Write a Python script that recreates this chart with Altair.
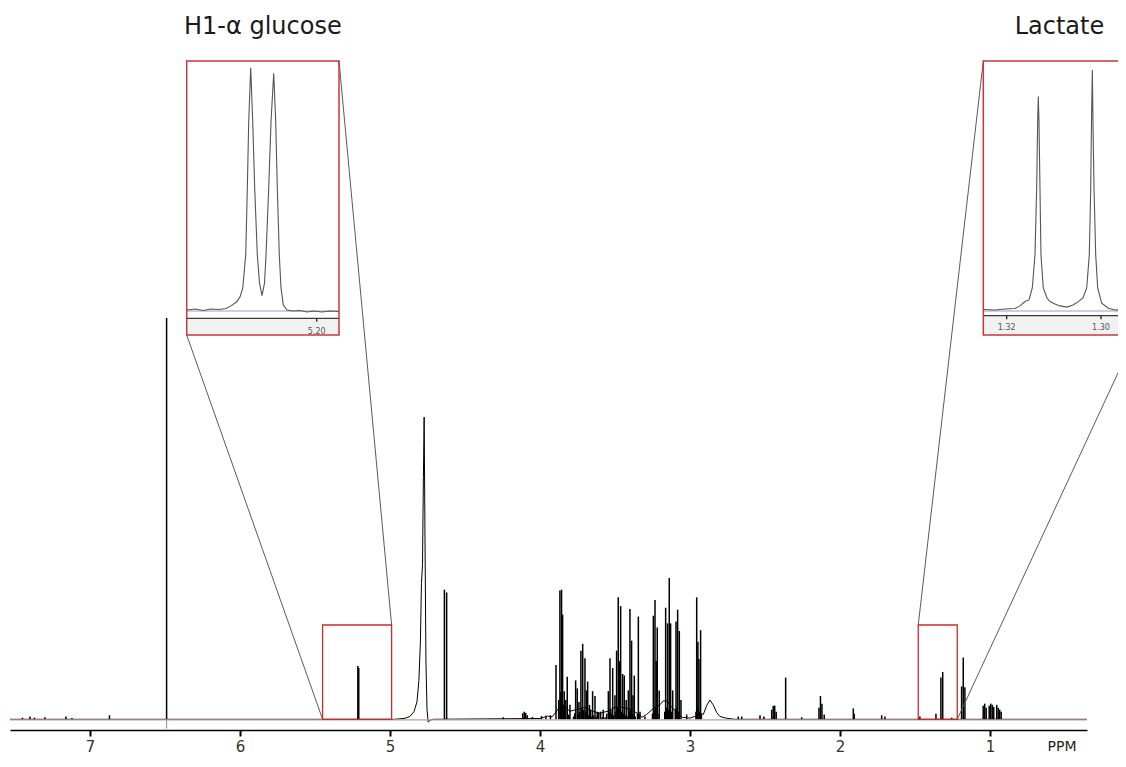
import altair as alt
import pandas as pd

# ---------------- data ----------------
# Sharp resonances of the main 1H NMR spectrum: chemical shift (ppm) and
# relative intensity (tallest signal, 6.49 ppm = 100)
peak_ppm = [7.45, 7.40, 7.37, 7.30, 7.16, 7.12, 6.87, 6.489,
            5.214, 5.208, 4.637, 4.622,
            4.245, 4.115, 4.105, 4.095, 4.085, 4.05, 3.99, 3.96, 3.93,
            3.893, 3.875, 3.867, 3.861, 3.856, 3.853, 3.849, 3.843, 3.838,
            3.833, 3.828, 3.818, 3.812, 3.806, 3.80, 3.776, 3.768,
            3.762, 3.751, 3.745, 3.740, 3.735, 3.727, 3.721, 3.715, 3.708,
            3.70, 3.695, 3.690, 3.682, 3.676, 3.670, 3.662, 3.655, 3.649,
            3.643, 3.633, 3.626, 3.618, 3.608, 3.596, 3.585, 3.578, 3.565,
            3.555, 3.544, 3.538, 3.533, 3.527, 3.521, 3.515, 3.508, 3.500,
            3.494, 3.489, 3.484, 3.478, 3.470, 3.466, 3.462, 3.456, 3.449,
            3.443, 3.438, 3.432, 3.425, 3.418, 3.411, 3.405, 3.400, 3.395,
            3.389, 3.384, 3.380, 3.375, 3.371, 3.365, 3.350, 3.344, 3.340,
            3.333, 3.300, 3.250, 3.244, 3.240, 3.233, 3.229, 3.225, 3.218,
            3.213, 3.205, 3.168, 3.162, 3.157, 3.149, 3.144, 3.138, 3.133,
            3.129, 3.124, 3.115, 3.098, 3.093, 3.087, 3.082, 3.077, 3.071,
            3.060, 3.022,
            2.960, 2.955, 2.951, 2.947, 2.940, 2.935, 2.929, 2.924,
            2.678, 2.655, 2.533, 2.507, 2.455, 2.445, 2.435, 2.425, 2.362,
            2.255, 2.140, 2.130, 2.120, 2.105, 1.911, 1.905, 1.722, 1.700,
            1.467, 1.360, 1.327, 1.315, 1.255, 1.189, 1.178, 1.167,
            1.045, 1.035, 1.025, 1.005, 0.995, 0.985, 0.975, 0.955, 0.945,
            0.935, 0.925]
peak_int = [0.4, 0.7, 0.4, 0.5, 0.7, 0.3, 1.0, 100.0,
            13.3, 12.8, 32.3, 31.6,
            0.5, 1.5, 1.9, 1.6, 1.0, 0.6, 0.8, 0.9, 1.0,
            13.5, 4.8, 32.1, 6.8, 32.3, 7.2, 26.1, 3.6, 7.0,
            1.5, 4.8, 10.6, 1.2, 1.0, 3.6, 0.7, 1.5,
            9.7, 7.7, 1.2, 4.3, 1.9, 17.1, 2.9, 18.8, 2.4,
            15.2, 1.9, 7.2, 9.4, 1.0, 3.6, 2.4, 0.7, 7.0,
            1.0, 5.8, 0.7, 1.9, 1.7, 1.9, 0.5, 2.4, 0.5,
            1.4, 7.0, 1.9, 15.2, 2.4, 1.4, 12.8, 1.0, 6.0,
            1.9, 17.1, 2.9, 30.4, 14.5, 2.4, 28.2, 1.9, 11.3,
            1.4, 10.9, 1.0, 4.8, 0.7, 7.2, 1.9, 27.5, 2.4,
            19.6, 1.4, 6.0, 1.0, 10.9, 0.7, 1.4, 25.6, 1.2,
            1.9, 0.7, 1.4, 25.8, 2.4, 29.7, 2.9, 14.5, 22.9,
            1.4, 7.2, 1.9, 27.8, 2.9, 23.9, 2.4, 35.2, 3.4,
            23.9, 1.9, 7.2, 2.4, 24.4, 2.9, 27.3, 1.9, 22.0,
            4.8, 1.2,
            1.9, 30.4, 2.9, 19.3, 15.0, 1.9, 22.2, 1.2,
            0.7, 0.7, 1.0, 0.7, 2.4, 3.4, 3.4, 1.9, 10.4,
            0.5, 2.9, 5.8, 3.9, 1.2, 2.7, 1.4, 1.0, 0.7,
            0.7, 1.4, 10.4, 11.8, 0.4, 8.2, 15.4, 8.0,
            3.4, 3.9, 2.9, 3.4, 3.9, 3.6, 3.1, 3.6, 2.9,
            2.4, 1.9]

# Broad components and baseline of the main spectrum (water, humps)
broad_ppm = [7.533, 5.00, 4.967, 4.900, 4.867, 4.840, 4.820, 4.807, 4.797,
             4.790, 4.783, 4.777, 4.772, 4.767, 4.760, 4.753, 4.745, 4.733,
             4.713, 4.00, 3.95, 3.92, 3.90, 3.87, 3.83, 3.80, 3.75, 3.70,
             3.65, 3.60, 3.55, 3.50, 3.45, 3.40, 3.35, 3.32, 3.289, 3.25,
             3.20, 3.178, 3.15, 3.122, 3.09, 3.078, 3.05, 3.00, 2.96, 2.93,
             2.911, 2.889, 2.867, 2.845, 2.822, 2.80, 2.755, 2.70, 0.353]
broad_int = [0.0, 0.0, 0.0, 0.25, 0.7, 1.9, 4.3, 9.7, 19.3,
             33.8, 38.6, 60.3, 75.3, 48.3, 14.5, 2.4, -0.7, -0.25,
             0.0, 0.2, 0.8, 0.6, 1.5, 3.0, 3.0, 2.0, 2.5, 3.0,
             2.0, 1.5, 2.0, 3.0, 3.0, 2.5, 1.5, 0.5, 1.2, 2.5,
             3.6, 4.6, 4.5, 3.0, 2.0, 1.2, 0.5, 0.3, 0.8, 1.5,
             1.2, 3.4, 4.8, 3.6, 1.7, 0.7, 0.25, 0.0, 0.0]

# Dispersive tail of the 6.49 ppm signal below the baseline
tail_ppm = [6.489]
tail_low = [-2.3]

# Zoom windows marked on the main spectrum
zoom_left = [5.449, 1.478]
zoom_right = [4.989, 1.218]
zoom_top = [23.5, 23.5]

# Inset 1: H1-alpha glucose doublet (ppm, relative intensity)
glc_ppm = [5.23562, 5.23334, 5.23115, 5.22896, 5.22677, 5.22485, 5.22348,
           5.22192, 5.22101, 5.22027, 5.21945, 5.21901, 5.21863, 5.21808,
           5.21753, 5.21699, 5.21627, 5.21567, 5.21499, 5.21430, 5.21389,
           5.21315, 5.21252, 5.21178, 5.21123, 5.21079, 5.21025, 5.20978,
           5.20915, 5.20814, 5.20649, 5.20458, 5.20266, 5.20074, 5.19855,
           5.19636, 5.19389]
glc_int = [0.0, 0.4, -0.2, 0.4, 0.2, 0.6, 1.7, 3.4, 5.4, 9.0, 22.7, 50.2,
           77.7, 100.0, 77.7, 50.2, 22.7, 11.1, 5.9, 11.1, 22.7, 50.2, 77.7,
           97.7, 77.7, 50.2, 22.7, 9.1, 2.1, 0.0, -0.4, -0.2, -0.8, -0.4,
           -0.8, -0.4, -0.6]
glc_ticks = [5.20]

# Inset 2: lactate doublet
lac_ppm = [1.32496, 1.32248, 1.32036, 1.31824, 1.31718, 1.31612, 1.31527,
           1.31457, 1.31400, 1.31364, 1.31343, 1.31330, 1.31315, 1.31294,
           1.31273, 1.31224, 1.31145, 1.31082, 1.30976, 1.30870, 1.30721,
           1.30594, 1.30481, 1.30382, 1.30303, 1.30248, 1.30218, 1.30201,
           1.30184, 1.30170, 1.30148, 1.30112, 1.30070, 1.29985, 1.29845,
           1.29703, 1.29491, 1.29279]
lac_int = [0.0, -0.2, 0.2, 0.4, 1.5, 3.3, 4.0, 9.0, 22.8, 50.6, 78.4, 88.9,
           78.4, 50.6, 22.8, 9.0, 4.8, 3.3, 2.3, 1.5, 1.0, 1.9, 3.3, 4.8,
           9.0, 22.8, 50.6, 78.4, 100.0, 78.4, 50.6, 22.8, 9.0, 2.6, 0.5,
           -0.2, 0.0, -0.2]
lac_ticks = [1.32, 1.30]

main_ticks = [7, 6, 5, 4, 3, 2, 1]
inset_titles = ["H1-\u03b1 glucose", "Lactate"]
axis_unit = "PPM"

# ---------------- layout ----------------
PLOT_W, PLOT_H = 1077, 722
PAD = {"left": 2, "top": 0, "right": 31, "bottom": 27}
X_LEFT, X_RIGHT = 7.533, 0.353
Y_LOW, Y_HIGH = -2.667, 177.25


def x_at(px):
    return X_LEFT - px / PLOT_W * (X_LEFT - X_RIGHT)


def y_at(py):
    return Y_HIGH - py / PLOT_H * (Y_HIGH - Y_LOW)


xs = alt.Scale(domain=[X_RIGHT, X_LEFT], reverse=True, nice=False, zero=False)
ys = alt.Scale(domain=[Y_LOW, Y_HIGH], nice=False, zero=False)
main_axis = alt.Axis(values=main_ticks, format="d", title=None, grid=False,
                     tickSize=6, tickWidth=2, tickColor="black",
                     domainColor="black", domainWidth=1.5,
                     labelFontSize=15, labelFont="DejaVu Sans",
                     labelColor="#333333", labelPadding=3,
                     labelFlush=False, labelOverlap=False)


def MX(f):
    return alt.X(f, type="quantitative", scale=xs, axis=main_axis)


def MY(f):
    return alt.Y(f, type="quantitative", scale=ys, axis=None)


peaks_df = pd.DataFrame({"ppm": peak_ppm, "int": peak_int,
                         "base": [0.0] * len(peak_ppm)})
broad_df = pd.DataFrame({"ppm": broad_ppm, "int": broad_int})
tail_df = pd.DataFrame({"ppm": tail_ppm, "low": tail_low, "base": [0.0]})
zoom_df = pd.DataFrame({"x1": zoom_left, "x2": zoom_right,
                        "y1": [0.0, 0.0], "y2": zoom_top})
base_df = pd.DataFrame({"x1": [X_LEFT], "x2": [X_RIGHT], "y": [-0.15]})

# inset placement inside the plot area (pixels) and shown data window
INSETS = [
    dict(box=(176.7, 329.0, 53.0, 327.0), ppm=(5.23562, 5.19389),
         inten=(-10.32, 102.77), axis_py=310.3, label_py=323.5),
    dict(box=(973.3, 1125.6, 53.0, 327.0), ppm=(1.32496, 1.29266),
         inten=(-10.65, 103.76), axis_py=307.7, label_py=319.5),
]
TITLE_PY = 26.3

# connecting lines (main data coordinates)
g, l = INSETS
conn_df = pd.DataFrame({
    "x1": [zoom_left[0], zoom_right[0], zoom_left[1], zoom_right[1]],
    "y1": [0.0, zoom_top[0], zoom_top[1], 0.0],
    "x2": [x_at(g["box"][0]), x_at(g["box"][1]), x_at(l["box"][0]), x_at(l["box"][1])],
    "y2": [y_at(g["box"][3]), y_at(g["box"][2]), y_at(l["box"][2]), y_at(l["box"][3])],
})
ppm_df = pd.DataFrame({"x": [x_at(1052)], "y": [y_at(PLOT_H + 21)], "t": [axis_unit]})

broad_line = alt.Chart(broad_df).mark_line(color="black", strokeWidth=1).encode(
    x=MX("ppm"), y=MY("int"))
sticks = alt.Chart(peaks_df).mark_rule(color="black", strokeWidth=1.5).encode(
    x=MX("ppm"), y=MY("base"), y2="int")
tail = alt.Chart(tail_df).mark_rule(color="#888888", strokeWidth=1).encode(
    x=MX("ppm"), y=MY("low"), y2="base")
pink = alt.Chart(base_df).mark_rule(color="#c99a9a", strokeWidth=1.4).encode(
    x=MX("x1"), x2="x2", y=MY("y"))
zoom_boxes = alt.Chart(zoom_df).mark_rect(fillOpacity=0, stroke="#cc2b2b",
                                          strokeWidth=1.3).encode(
    x=MX("x1"), x2="x2", y=MY("y1"), y2="y2")
conn = alt.Chart(conn_df).mark_rule(color="#5a5a5a", strokeWidth=1).encode(
    x=MX("x1"), x2="x2", y=MY("y1"), y2="y2")
ppm_label = alt.Chart(ppm_df).mark_text(fontSize=14, font="DejaVu Sans",
                                        color="#222222", baseline="alphabetic",
                                        align="center").encode(
    x=MX("x"), y=MY("y"), text="t:N")

main_layer = alt.layer(broad_line, sticks, tail, pink, zoom_boxes, conn, ppm_label)


def inset_layer(ins, ppm, inten, ticks, title):
    left, right, top, bottom = ins["box"]
    p_l, p_r = ins["ppm"]
    i_b, i_t = ins["inten"]
    kx = (p_l - p_r) / (right - left)
    ky = (i_t - i_b) / (bottom - top)

    def ix(px):
        return p_l - (px - left) * kx

    def iy(py):
        return i_t - (py - top) * ky

    sx = alt.Scale(domain=[ix(PLOT_W), ix(0)], reverse=True, nice=False, zero=False)
    sy = alt.Scale(domain=[iy(PLOT_H), iy(0)], nice=False, zero=False)

    def X(f):
        return alt.X(f, type="quantitative", scale=sx, axis=None)

    def Y(f):
        return alt.Y(f, type="quantitative", scale=sy, axis=None)

    axis_i = iy(ins["axis_py"])
    box_df = pd.DataFrame({"x1": [p_l], "x2": [p_r], "y1": [i_b], "y2": [i_t]})
    band_df = pd.DataFrame({"x1": [p_l], "x2": [p_r], "y1": [i_b], "y2": [axis_i]})
    lav_df = pd.DataFrame({"x1": [p_l], "x2": [p_r], "y": [iy(303.0)]})
    ax_df = pd.DataFrame({"x1": [p_l], "x2": [p_r], "y": [axis_i]})
    tick_df = pd.DataFrame({"ppm": ticks, "y1": [axis_i] * len(ticks),
                            "y2": [iy(ins["axis_py"] + 3.5)] * len(ticks),
                            "ly": [iy(ins["label_py"])] * len(ticks)})
    curve_df = pd.DataFrame({"ppm": ppm, "int": inten})
    title_df = pd.DataFrame({"x": [(p_l + p_r) / 2], "y": [iy(TITLE_PY)], "t": [title]})

    band = alt.Chart(band_df).mark_rect(fill="#f1f1f1").encode(
        x=X("x1"), x2="x2", y=Y("y1"), y2="y2")
    lav = alt.Chart(lav_df).mark_rule(color="#a595d2", strokeWidth=1.2).encode(
        x=X("x1"), x2="x2", y=Y("y"))
    curve = alt.Chart(curve_df).mark_line(color="#555555", strokeWidth=1.1).encode(
        x=X("ppm"), y=Y("int"))
    axl = alt.Chart(ax_df).mark_rule(color="#3a3a3a", strokeWidth=1.2).encode(
        x=X("x1"), x2="x2", y=Y("y"))
    tk = alt.Chart(tick_df).mark_rule(color="#222222", strokeWidth=1.3).encode(
        x=X("ppm"), y=Y("y1"), y2="y2")
    tl = alt.Chart(tick_df).mark_text(fontSize=8, font="DejaVu Sans",
                                      color="#555555", baseline="middle").encode(
        x=X("ppm"), y=Y("ly"), text=alt.Text("ppm:Q", format=".2f"))
    box = alt.Chart(box_df).mark_rect(fillOpacity=0, stroke="#c8373b",
                                      strokeWidth=1.5).encode(
        x=X("x1"), x2="x2", y=Y("y1"), y2="y2")
    ttl = alt.Chart(title_df).mark_text(fontSize=24, font="DejaVu Sans",
                                        color="#1a1a1a", baseline="alphabetic",
                                        align="center").encode(
        x=X("x"), y=Y("y"), text="t:N")
    return alt.layer(band, lav, curve, axl, tk, tl, box, ttl)


inset_glc = inset_layer(INSETS[0], glc_ppm, glc_int, glc_ticks, inset_titles[0])
inset_lac = inset_layer(INSETS[1], lac_ppm, lac_int, lac_ticks, inset_titles[1])

chart = alt.layer(main_layer, inset_glc, inset_lac).resolve_scale(
    x="independent", y="independent"
).properties(
    width=PLOT_W, height=PLOT_H,
    autosize=alt.AutoSizeParams(type="none"),
    padding=PAD,
    background="white",
).configure_view(stroke=None)

chart.save("out.html", embed_options={"renderer": "svg", "actions": False})
